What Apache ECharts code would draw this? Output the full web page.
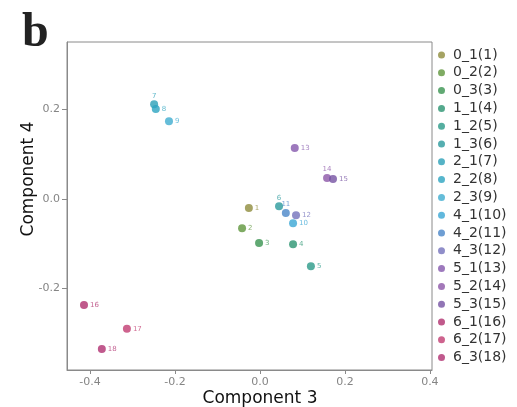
<!DOCTYPE html>
<html>
<head>
<meta charset="utf-8">
<script src="https://cdn.jsdelivr.net/npm/echarts@6/dist/echarts.min.js"></script>
<style>html,body{margin:0;padding:0;background:#fff;}#c{width:517px;height:407px;}</style>
</head>
<body>
<div id="c"></div>
<script>
// ---- data ----
const groups = ['0_1(1)','0_2(2)','0_3(3)','1_1(4)','1_2(5)','1_3(6)','2_1(7)','2_2(8)','2_3(9)',
  '4_1(10)','4_2(11)','4_3(12)','5_1(13)','5_2(14)','5_3(15)','6_1(16)','6_2(17)','6_3(18)'];
const pointLabels = ['1','2','3','4','5','6','7','8','9','10','11','12','13','14','15','16','17','18'];
const comp3 = [-0.026,-0.042,-0.002,0.078,0.120,0.045,-0.249,-0.245,-0.214,0.078,0.061,0.085,0.082,0.158,0.172,-0.414,-0.313,-0.372];
const comp4 = [-0.020,-0.065,-0.098,-0.101,-0.150,-0.016,0.212,0.201,0.174,-0.054,-0.031,-0.036,0.114,0.047,0.045,-0.237,-0.290,-0.335];
const xTicks = [-0.4,-0.2,0.0,0.2,0.4];
const yTicks = [-0.2,0.0,0.2];

// ---- style ----
const palette = ['#8f8c3c','#5f963c','#3a9450','#2a9470','#2a9a88','#2a9a9c','#2aa0b8','#2ca4c0','#3eacd0',
  '#3aa6d4','#4a86c8','#7472bc','#8458ac','#8c56a8','#7652a2','#b0306e','#c23c72','#b03070'];
const topLabel = {6:true, 7:true, 14:true, 11:true};

const series = groups.map((g, i) => ({
  name: g,
  type: 'scatter',
  symbolSize: 8,
  itemStyle: {color: palette[i]},
  label: {
    show: true,
    formatter: pointLabels[i],
    position: topLabel[i + 1] ? 'top' : 'right',
    distance: topLabel[i + 1] ? 1 : 2,
    fontSize: 7,
    fontFamily: 'DejaVu Sans',
    color: palette[i],
    opacity: 0.75
  },
  data: [[comp3[i], comp4[i]]]
}));

const chart = echarts.init(document.getElementById('c'), null, {renderer: 'canvas'});
chart.setOption({
  animation: false,
  backgroundColor: '#fff',
  color: palette,
  grid: {left: 67, right: 85, top: 42, bottom: 37, show: true, borderColor: '#8a8a8a', borderWidth: 1, backgroundColor: '#fff'},
  xAxis: {
    type: 'value', min: -0.454, max: 0.405,
    axisLine: {show: true, onZero: false, lineStyle: {color: '#8a8a8a'}},
    axisTick: {show: true, inside: false, length: 4, lineStyle: {color: '#8a8a8a'}, customValues: xTicks},
    axisLabel: {customValues: xTicks, margin: 7, fontSize: 11, fontFamily: 'DejaVu Sans', color: '#858585',
      formatter: v => v.toFixed(1)},
    splitLine: {show: false}
  },
  yAxis: {
    type: 'value', min: -0.382, max: 0.351,
    axisLine: {show: true, onZero: false, lineStyle: {color: '#8a8a8a'}},
    axisTick: {show: true, inside: false, length: 5, lineStyle: {color: '#8a8a8a'}, customValues: yTicks},
    axisLabel: {customValues: yTicks, margin: 7, fontSize: 11, fontFamily: 'DejaVu Sans', color: '#858585',
      formatter: v => v.toFixed(1)},
    splitLine: {show: false}
  },
  legend: {
    orient: 'vertical', left: 438, top: 48, padding: 0,
    itemWidth: 7, itemHeight: 7, itemGap: 3.8, icon: 'circle',
    textStyle: {fontSize: 14, lineHeight: 14, fontFamily: 'DejaVu Sans', color: '#333', padding: [0, 0, 0, 3]},
    data: groups
  },
  graphic: [
    {type: 'text', left: 22, top: 10, style: {text: 'b', font: 'bold 48px "Liberation Serif"', fill: '#222'}},
    {type: 'text', x: 260, y: 399, style: {text: 'Component 3', font: '17px "DejaVu Sans"', fill: '#111', align: 'center', verticalAlign: 'middle'}},
    {type: 'text', x: 29, y: 179, rotation: Math.PI / 2, style: {text: 'Component 4', font: '17px "DejaVu Sans"', fill: '#111', align: 'center', verticalAlign: 'middle'}}
  ],
  series: series
});
</script>
</body>
</html>
